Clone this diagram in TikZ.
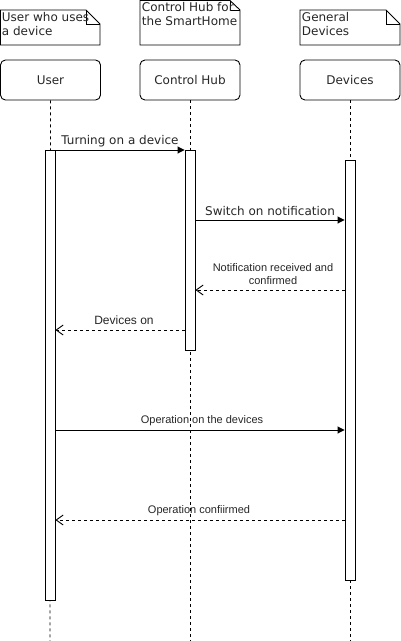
\documentclass[tikz,border=0pt]{standalone}
\usepackage{fontspec}
\setmainfont{DejaVu Sans}
\newfontfamily\msgfont{Liberation Sans}
\usepackage{tikz}
\usetikzlibrary{calc,arrows.meta}
\colorlet{seq_line}{black}
\colorlet{seq_text}{black!85}
\tikzset{
    head/.style={draw,rounded corners=5pt,minimum width=100pt,minimum height=40pt,inner sep=0pt,font=\fontsize{12}{14}\selectfont,text=seq_text},
    activation/.style={draw,fill=white,minimum width=10pt,inner sep=0pt},
    lifeline/.style={dash pattern=on 3pt off 3pt,seq_line},
    call/.style={-{Triangle[length=7pt,width=7pt]},seq_line},
    reply/.style={-{Straight Barb[length=7pt,width=10pt]},dash pattern=on 3pt off 3pt,seq_line},
    notetext/.style={anchor=north west,align=left,inner sep=1.5pt,font=\fontsize{12}{14}\selectfont,text=seq_text},
    biglabel/.style={font=\fontsize{12}{14}\selectfont,text=seq_text,inner sep=0pt},
    smalllabel/.style={font=\msgfont\fontsize{11}{13}\selectfont,text=seq_text,inner sep=0pt,align=center},
}

\begin{document}
\begin{tikzpicture}[x=1pt,y=-1pt,line width=0.9pt]
  \useasboundingbox (0,0) rectangle (401,641);
  % Notes
  \draw (0.5,10) -- (86,10) -- (100,24) -- (100,45) -- (0.5,45) -- cycle;
  \draw (86,10) -- (86,24) -- (100,24);
  \node[notetext] (usernote) at (0,10) {User who uses\\a device};
  \draw (140,0.5) -- (230,0.5) -- (240,10) -- (240,45) -- (140,45) -- cycle;
  \draw (230,0.5) -- (230,10) -- (240,10);
  \node[notetext] (hubnote) at (140,0) {Control Hub for\\the SmartHome};
  \draw (300,10) -- (386,10) -- (400,24) -- (400,45) -- (300,45) -- cycle;
  \draw (386,10) -- (386,24) -- (400,24);
  \node[notetext] (devnote) at (300,10) {General\\Devices};
  % Lifeline heads
  \node[head] (user) at (50.5,80) {User};
  \node[head] (hub) at (190,80) {Control Hub};
  \node[head] (dev) at (350,80) {Devices};
  \coordinate (userend) at (50,641);
  \coordinate (hubend) at (190,641);
  \coordinate (devend) at (350,641);
  \draw[lifeline] (user.south) -- (userend);
  \draw[lifeline] (hub.south) -- (hubend);
  \draw[lifeline] (dev.south) -- (devend);
  % Activation bars
  \node[activation,minimum height=450pt] (userbar) at (50,375) {};
  \node[activation,minimum height=200pt] (hubbar) at (190,250) {};
  \node[activation,minimum height=420pt] (devbar) at (350,370) {};
  % Messages
  \draw[call] (userbar.east |- 0,150) -- (hubbar.west |- 0,150);
  \node[biglabel] (m1) at (120,141) {Turning on a device};
  \draw[call] (hubbar.east |- 0,220) -- (devbar.west |- 0,220);
  \node[biglabel] (m2) at (270,211) {Switch on notification};
  \draw[reply] (devbar.west |- 0,290) -- (hubbar.east |- 0,290);
  \node[smalllabel] (m3) at (273,274.5) {Notification received and\\confirmed};
  \draw[reply] (hubbar.west |- 0,330) -- (userbar.east |- 0,330);
  \node[smalllabel,font=\msgfont\fontsize{12}{14}\selectfont] (m4) at (124,320) {Devices on};
  \draw[call] (userbar.east |- 0,430) -- (devbar.west |- 0,430);
  \node[smalllabel] (m5) at (202,421) {Operation on the devices};
  \draw[reply] (devbar.west |- 0,520) -- (userbar.east |- 0,520);
  \node[smalllabel] (m6) at (199,511) {Operation confiirmed};
\end{tikzpicture}
\end{document}
